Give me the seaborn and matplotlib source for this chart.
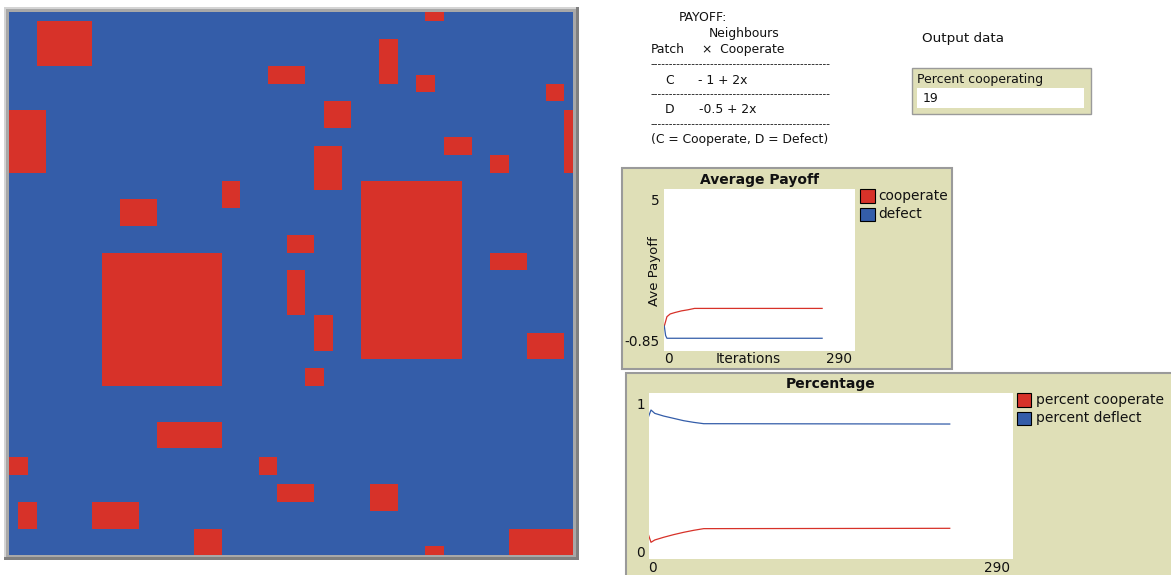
import numpy as np
import seaborn as sns
import matplotlib.pyplot as plt
from matplotlib.colors import ListedColormap
from matplotlib.patches import Rectangle

W, H = 1171, 575
RED = '#d73229'
BLUE = '#345da9'
KHAKI = '#dfdfb7'

# world of 61 x 61 patches; cooperating (red) blocks as (col, row, width, height)
world_size = 61
coop_blocks = [
    (3, 1, 6, 5), (45, 0, 2, 1), (40, 3, 2, 5), (28, 6, 4, 2), (44, 7, 2, 2),
    (58, 8, 2, 2), (0, 11, 4, 7), (34, 10, 3, 3), (60, 11, 1, 7), (47, 14, 3, 2),
    (33, 15, 3, 5), (52, 16, 2, 2), (38, 19, 11, 20), (23, 19, 2, 3), (12, 21, 4, 3),
    (30, 25, 3, 2), (52, 27, 4, 2), (10, 27, 13, 15), (30, 29, 2, 5), (33, 34, 2, 4),
    (56, 36, 4, 3), (32, 40, 2, 2), (16, 46, 7, 3), (0, 50, 2, 2), (27, 50, 2, 2),
    (29, 53, 4, 2), (39, 53, 3, 3), (1, 55, 2, 3), (9, 55, 5, 3), (20, 58, 3, 3),
    (54, 58, 7, 3), (45, 60, 2, 1),
]

# Average Payoff plot
pay_iter_coop = [0, 4, 9, 16, 26, 36, 46, 240]
pay_coop = [0.04, 0.38, 0.48, 0.53, 0.59, 0.63, 0.68, 0.68]
pay_iter_def = [0, 2, 4, 240]
pay_def = [0.04, -0.30, -0.40, -0.40]

# Percentage plot
pct_iter = [0, 2, 5, 12, 20, 28, 36, 44, 240]
pct_coop = [0.146, 0.102, 0.116, 0.132, 0.148, 0.162, 0.174, 0.184, 0.186]
pct_def = [0.856, 0.896, 0.876, 0.860, 0.846, 0.832, 0.822, 0.814, 0.812]

grid = np.zeros((world_size, world_size))
for c, r, w, h in coop_blocks:
    grid[r:r + h, c:c + w] = 1
pct_cooperating = int(round(100 * grid.mean()))

plt.rcParams['font.family'] = ['DejaVu Sans']
fig = plt.figure(figsize=(W / 100, H / 100), dpi=100)


def px(x0, y0, x1, y1):
    return [x0 / W, 1 - y1 / H, (x1 - x0) / W, (y1 - y0) / H]


# background layer in pixel coordinates
bg = fig.add_axes([0, 0, 1, 1], zorder=0)
bg.set_xlim(0, W)
bg.set_ylim(H, 0)
bg.axis('off')


def box(x0, y0, x1, y1, **kw):
    bg.add_patch(Rectangle((x0, y0), x1 - x0, y1 - y0, **kw))


def txt(x, y, s, size=8.9, **kw):
    kw.setdefault('va', 'center')
    bg.text(x, y, s, fontsize=size, color='#111111', **kw)


# world frame
box(4, 6.5, 578.5, 560, fc='#7f7f7f', ec='none')
box(4, 6.5, 575.5, 557, fc='#d4d4d4', ec='none')
box(6, 8.5, 575.5, 557, fc='#a8a8a8', ec='none')

# payoff text
txt(678.3, 17.5, 'PAYOFF:')
txt(708.3, 33.3, 'Neighbours')
txt(650.7, 49.5, 'Patch')
txt(701.5, 49.5, '×  Cooperate')
dashes = '-' * 48
for yy in (64, 94.5, 124.5):
    txt(650.7, yy, dashes, size=7.4)
txt(665, 80, 'C')
txt(698.3, 80, '- 1 + 2x')
txt(664.3, 109.5, 'D')
txt(699.3, 109.5, '-0.5 + 2x')
txt(650.7, 139, '(C = Cooperate, D = Defect)')

# output monitor
txt(921.7, 38.5, 'Output data', size=9.7)
box(911.7, 67.7, 1091, 114.3, fc=KHAKI, ec='#9a9a9a', lw=1)
box(916.7, 87.7, 1084, 108.3, fc='white', ec='none')
txt(916.7, 79.5, 'Percent cooperating', size=9)
txt(922.7, 99, str(pct_cooperating), size=9)

# Average Payoff panel
box(622, 168, 952, 369, fc=KHAKI, ec='#9a9a9a', lw=1.5)
txt(759.6, 180, 'Average Payoff', size=10, ha='center', fontweight='bold')
txt(660, 201, '5', size=9.8, ha='right')
txt(660, 342.5, '-0.85', size=9.8, ha='right')
txt(664.3, 359, '0', size=9.8)
txt(748.7, 359, 'Iterations', size=9.8, ha='center')
txt(852.3, 359, '290', size=9.8, ha='right')
txt(654.5, 271, 'Ave Payoff', size=9.5, ha='center', rotation=90)
box(860, 189.3, 875, 202.7, fc=RED, ec='black', lw=0.8)
box(860, 207.7, 875, 220.7, fc=BLUE, ec='black', lw=0.8)
txt(878.3, 196, 'cooperate', size=9.9)
txt(878.3, 214.2, 'defect', size=9.9)

# Percentage panel
box(625.7, 373.3, 1185, 590, fc=KHAKI, ec='#9a9a9a', lw=1.5)
txt(830.5, 384, 'Percentage', size=10, ha='center', fontweight='bold')
txt(645, 405, '1', size=9.8, ha='right')
txt(645, 552.7, '0', size=9.8, ha='right')
txt(648.5, 568.3, '0', size=9.8)
txt(1010, 568.3, '290', size=9.8, ha='right')
box(1017, 393.3, 1031.4, 406.7, fc=RED, ec='black', lw=0.8)
box(1017, 411.7, 1031.4, 425, fc=BLUE, ec='black', lw=0.8)
txt(1035.6, 400, 'percent cooperate', size=10)
txt(1035.6, 418.3, 'percent deflect', size=10)

# world view
ax_w = fig.add_axes(px(9, 12.3, 573.3, 555.3), zorder=1)
sns.heatmap(grid, cmap=ListedColormap([BLUE, RED]), vmin=0, vmax=1, cbar=False,
            xticklabels=False, yticklabels=False, ax=ax_w)

# plots
ax1 = fig.add_axes(px(664.3, 189, 855, 350.7), zorder=1)
sns.lineplot(x=pay_iter_coop, y=pay_coop, color=RED, linewidth=0.9, ax=ax1)
sns.lineplot(x=pay_iter_def, y=pay_def, color=BLUE, linewidth=0.9, ax=ax1)
ax1.set_xlim(0, 290)
ax1.set_ylim(-0.85, 5)

ax2 = fig.add_axes(px(648.5, 392.7, 1012.5, 559.3), zorder=1)
sns.lineplot(x=pct_iter, y=pct_coop, color=RED, linewidth=0.9, ax=ax2)
sns.lineplot(x=pct_iter, y=pct_def, color=BLUE, linewidth=0.9, ax=ax2)
ax2.set_xlim(0, 290)
ax2.set_ylim(0, 1)

for ax in (ax1, ax2):
    ax.set_facecolor('white')
    ax.set_xticks([])
    ax.set_yticks([])
    ax.set_xlabel('')
    ax.set_ylabel('')
    for s in ax.spines.values():
        s.set_visible(False)

fig.savefig('out.png', dpi=100)
